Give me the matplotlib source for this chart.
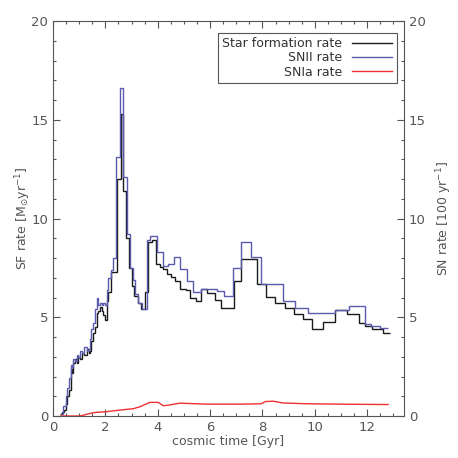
import matplotlib
matplotlib.use("Agg")
from matplotlib import pyplot as plt
import numpy as np

# star formation rate, step histogram (edges in Gyr, values in Msun/yr)
sf_edges = [0.27, 0.35, 0.42, 0.5, 0.55, 0.62, 0.67, 0.7, 0.74, 0.78, 0.84, 0.9, 0.97,
            1.04, 1.1, 1.2, 1.29, 1.36, 1.41, 1.47, 1.54, 1.6, 1.67, 1.73, 1.79, 1.86,
            1.92, 1.98, 2.05, 2.12, 2.2, 2.43, 2.58, 2.68, 2.8, 2.9, 3.0, 3.1, 3.24,
            3.38, 3.53, 3.61, 3.79, 3.95, 4.08, 4.21, 4.34, 4.49, 4.66, 4.85, 5.08,
            5.25, 5.46, 5.67, 5.89, 6.18, 6.41, 6.91, 7.2, 7.8, 8.13, 8.47, 8.85, 9.2,
            9.55, 9.9, 10.3, 10.77, 11.22, 11.67, 11.93, 12.18, 12.6, 12.87]
sf_rate = [0.1, 0.2, 0.3, 0.6, 1.0, 1.3, 1.7, 2.4, 2.2, 2.7, 2.9, 2.7, 3.0, 2.9, 3.2,
           3.1, 3.4, 3.2, 3.3, 3.8, 4.2, 4.5, 5.2, 5.3, 5.5, 5.3, 5.1, 4.85, 5.8, 6.3,
           7.3, 12.0, 15.3, 11.4, 9.0, 7.5, 6.6, 6.1, 5.7, 5.4, 6.3, 8.8, 8.9, 7.7,
           7.55, 7.45, 7.2, 7.05, 6.85, 6.45, 6.4, 6.0, 5.8, 6.45, 6.25, 5.85, 5.45,
           6.85, 7.95, 6.7, 6.05, 5.7, 5.45, 5.15, 4.9, 4.4, 4.75, 5.35, 5.15, 4.7,
           4.55, 4.4, 4.2]

# SNII rate (100/yr)
snii_edges = [0.3, 0.4, 0.5, 0.55, 0.62, 0.67, 0.72, 0.78, 0.84, 0.9, 0.97, 1.04, 1.1,
              1.2, 1.29, 1.36, 1.41, 1.47, 1.54, 1.6, 1.67, 1.73, 1.79, 1.86, 1.92,
              1.98, 2.05, 2.12, 2.2, 2.3, 2.4, 2.55, 2.68, 2.83, 2.95, 3.05, 3.15, 3.26,
              3.4, 3.6, 3.7, 3.98, 4.21, 4.4, 4.62, 4.87, 5.12, 5.35, 5.64, 6.25,
              6.53, 6.88, 7.2, 7.58, 7.96, 8.4, 8.8, 9.25, 9.75, 10.77, 11.32, 11.9,
              12.15, 12.5, 12.78]
snii_rate = [0.1, 0.5, 1.0, 1.4, 1.9, 2.6, 2.5, 2.9, 2.8, 3.1, 3.0, 3.3, 3.2, 3.5, 3.3,
             3.4, 3.9, 4.4, 4.7, 5.4, 5.95, 5.6, 5.7, 5.6, 5.7, 5.6, 6.4, 7.0, 7.4, 8.0,
             13.1, 16.6, 12.1, 9.2, 7.5, 6.9, 6.2, 5.7, 5.4, 8.9, 9.1, 8.3, 7.6, 7.7,
             8.05, 7.45, 6.85, 6.3, 6.45, 6.35, 6.1, 7.5, 8.8, 8.05, 6.7, 6.7, 5.8, 5.45,
             5.2, 5.35, 5.55, 4.65, 4.55, 4.45]

# SNIa rate (100/yr)
snia_time = [0.3, 1.03, 1.54, 2.05, 2.56, 3.07, 3.32, 3.7, 4.02, 4.21, 4.4, 4.85, 5.87,
             7.14, 7.96, 8.1, 8.41, 8.79, 9.68, 10.95, 12.8]
snia_rate = [0.0, 0.0, 0.17, 0.22, 0.3, 0.37, 0.47, 0.69, 0.69, 0.52, 0.55, 0.65, 0.6,
             0.6, 0.62, 0.73, 0.75, 0.66, 0.62, 0.6, 0.58]

grey = "#555555"
plt.rcParams["font.family"] = "DejaVu Sans"
plt.rcParams["font.size"] = 9

fig = plt.figure(figsize=(4.58, 4.58), dpi=100)
ax = fig.add_axes([0.1157, 0.0917, 0.766, 0.8624])

ax.stairs(sf_rate, sf_edges, color="#1a1a1a", lw=1.0, baseline=None, label="Star formation rate")
ax.stairs(snii_rate, snii_edges, color="#5a5aae", lw=1.0, baseline=None, label="SNII rate")
ax.plot(snia_time, snia_rate, color="#ee3030", lw=1.0, label="SNIa rate")

ax.set_xlim(0, 13.4)
ax.set_ylim(0, 20)
ax.set_xticks(np.arange(0, 13, 2))
ax.set_xticks(np.arange(0, 13.4, 0.5), minor=True)
ax.set_yticks(np.arange(0, 21, 5))
ax.set_yticks(np.arange(0, 21, 1), minor=True)

ax.tick_params(which="both", direction="in", top=True, right=True, colors=grey,
               labelcolor=grey, labelsize=9.5)
ax.tick_params(which="major", length=5, width=0.8)
ax.tick_params(which="minor", length=2.5, width=0.8)
for s in ax.spines.values():
    s.set_color(grey)
    s.set_linewidth(0.8)

ax.set_xlabel("cosmic time [Gyr]", color=grey, labelpad=1)
ax.set_ylabel(r"SF rate [M$_{\odot}$yr$^{-1}$]", color=grey, labelpad=-1)

ax2 = ax.twinx()
ax2.set_ylim(0, 20)
ax2.set_yticks(np.arange(0, 21, 5))
ax2.set_yticks(np.arange(0, 21, 1), minor=True)
ax2.tick_params(which="both", direction="in", colors=grey, labelcolor=grey, labelsize=9.5)
ax2.tick_params(which="major", length=5, width=0.8)
ax2.tick_params(which="minor", length=2.5, width=0.8)
ax2.set_ylabel(r"SN rate [100 yr$^{-1}$]", color=grey, labelpad=6)
for s in ax2.spines.values():
    s.set_visible(False)

leg = ax.legend(loc="upper right", markerfirst=False, fancybox=False, framealpha=1,
                edgecolor=grey, fontsize=9, handlelength=3.2, borderpad=0.35,
                labelspacing=0.1, borderaxespad=0, bbox_to_anchor=(0.98, 0.97))
leg.get_frame().set_linewidth(0.8)
for t in leg.get_texts():
    t.set_color("#333333")

fig.savefig("out.png", dpi=100)
